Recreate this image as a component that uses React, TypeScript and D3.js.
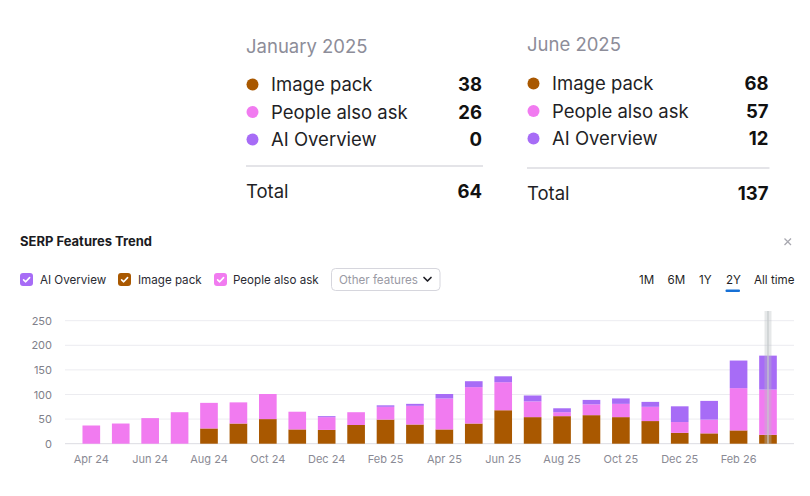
import { scaleBand, scaleLinear, stack } from "d3";

const months = [
  "Apr 24", "May 24", "Jun 24", "Jul 24", "Aug 24", "Sep 24", "Oct 24", "Nov 24",
  "Dec 24", "Jan 25", "Feb 25", "Mar 25", "Apr 25", "May 25", "Jun 25", "Jul 25",
  "Aug 25", "Sep 25", "Oct 25", "Nov 25", "Dec 25", "Jan 26", "Feb 26", "Mar 26",
];
const imagePack = [0, 0, 0, 0, 31, 41, 50, 29, 28, 38, 49, 39, 29, 41, 68, 54, 56, 58, 54, 46, 22, 21, 27, 18];
const peopleAlsoAsk = [37, 41, 52, 64, 52, 43, 51, 36, 26, 26, 26, 38, 63, 74, 57, 32, 8, 22, 27, 29, 22, 28, 86, 92];
const aiOverview = [0, 0, 0, 0, 0, 0, 0, 0, 2, 0, 3, 4, 9, 12, 12, 12, 8, 9, 11, 10, 32, 38, 56, 69];
const yTicks = [0, 50, 100, 150, 200, 250];
const rangeButtons = ["1M", "6M", "1Y", "2Y", "All time"];
const summaryPanels = [
  { title: "January 2025", index: 9 },
  { title: "June 2025", index: 14 },
];

const colors = {
  image: "#a95800",
  paa: "#f17bf0",
  ai: "#a76cf6",
};

const font = "Inter, 'Noto Sans', sans-serif";

type Row = { month: string; image: number; paa: number; ai: number };

const rows: Row[] = months.map((m, i) => ({
  month: m,
  image: imagePack[i],
  paa: peopleAlsoAsk[i],
  ai: aiOverview[i],
}));

const keys = ["image", "paa", "ai"];

const Summary = ({ x, y, right, title, index, rowsTop, totalY }: { x: number; y: number; right: number; title: string; index: number; rowsTop: number; totalY: number }) => {
  const items = [
    { label: "Image pack", value: imagePack[index], color: colors.image },
    { label: "People also ask", value: peopleAlsoAsk[index], color: colors.paa },
    { label: "AI Overview", value: aiOverview[index], color: colors.ai },
  ];
  const total = items.reduce((s, d) => s + d.value, 0);
  return (
    <g fontFamily={font}>
      <text x={x} y={y} fontSize={18.5} fill="#8d8d99">{title}</text>
      {items.map((d, i) => (
        <g key={d.label} transform={`translate(0,${rowsTop + i * 27.5})`}>
          <circle cx={x + 6.5} cy={-6.5} r={6} fill={d.color} />
          <text x={x + 25} y={0} fontSize={18.5} fill="#1f1f26">{d.label}</text>
          <text x={right} y={0} fontSize={18.5} fontWeight={700} fill="#111" textAnchor="end">{d.value}</text>
        </g>
      ))}
      <line x1={x} x2={right + 1} y1={totalY - 32} y2={totalY - 32} stroke="#c9c9d2" strokeWidth={1.2} />
      <text x={x} y={totalY} fontSize={18.5} fill="#1f1f26">Total</text>
      <text x={right} y={totalY} fontSize={18.5} fontWeight={700} fill="#111" textAnchor="end">{total}</text>
    </g>
  );
};

const Check = ({ x, y, color }: { x: number; y: number; color: string }) => (
  <g transform={`translate(${x},${y})`}>
    <rect width={13} height={13} rx={3} fill={color} />
    <path d="M3.6 6.8 L5.7 8.8 L9.6 4.6" fill="none" stroke="#fff" strokeWidth={1.6} strokeLinecap="round" strokeLinejoin="round" />
  </g>
);

const App = () => {
  const width = 810;
  const height = 496;
  const baseline = 443.7;

  const x = scaleBand<string>()
    .domain(months)
    .range([76.6, 782.7])
    .paddingInner(0.4)
    .paddingOuter(0.2);
  const y = scaleLinear().domain([0, 250]).range([baseline, 320.7]);

  const series = stack<Row>().keys(keys)(rows);
  const fills = [colors.image, colors.paa, colors.ai];

  const last = months[months.length - 1];
  const hoverX = (x(last) as number) + x.bandwidth() / 2;
  const buttonX = [639, 667.5, 699, 726, 754];

  return (
    <svg
      width={width}
      height={height}
      viewBox={`0 0 ${width} ${height}`}
      style={{ position: "absolute", left: 0, top: 0, background: "#fff" }}
    >
      <Summary x={246} y={53} right={482} title={summaryPanels[0].title} index={summaryPanels[0].index} rowsTop={91} totalY={198} />
      <Summary x={527} y={51} right={768.5} title={summaryPanels[1].title} index={summaryPanels[1].index} rowsTop={90} totalY={200} />

      <g fontFamily={font}>
        <text x={20} y={246} fontSize={13} fontWeight={700} fill="#1b1b22">SERP Features Trend</text>
        <path d="M784.5 238.5 L791 245 M791 238.5 L784.5 245" stroke="#a8a8b0" strokeWidth={1.3} />

        <Check x={20} y={273} color={colors.ai} />
        <text x={40} y={284} fontSize={11.6} fill="#2a2a33">AI Overview</text>
        <Check x={118} y={273} color={colors.image} />
        <text x={138} y={284} fontSize={11.6} fill="#2a2a33">Image pack</text>
        <Check x={214} y={273} color={colors.paa} />
        <text x={233} y={284} fontSize={11.6} fill="#2a2a33">People also ask</text>

        <rect x={331.5} y={268.5} width={108.5} height={22} rx={4} fill="#fff" stroke="#d6d6dd" />
        <text x={339} y={284} fontSize={11.6} fill="#9a9aa4">Other features</text>
        <path d="M424 277.5 L427.5 281 L431 277.5" fill="none" stroke="#1f1f26" strokeWidth={1.7} strokeLinecap="round" strokeLinejoin="round" />

        {rangeButtons.map((b, i) => (
          <text key={b} x={buttonX[i]} y={284} fontSize={11.6} fill="#1f1f26">{b}</text>
        ))}
        <rect x={725.5} y={289.5} width={14.5} height={2.6} rx={1} fill="#1670d6" />

        {yTicks.map((t) => (
          <g key={t}>
            <line x1={65} x2={794} y1={y(t)} y2={y(t)} stroke={t === 0 ? "#dcdce2" : "#ececf0"} strokeWidth={1} />
            <text x={52} y={y(t) + 4} fontSize={11} fill="#80808a" textAnchor="end">{t}</text>
          </g>
        ))}

        {series.map((s, si) => (
          <g key={s.key} fill={fills[si]}>
            {s.map((d) => {
              const h = y(d[0]) - y(d[1]);
              if (h <= 0) return null;
              return (
                <rect
                  key={d.data.month}
                  x={x(d.data.month)}
                  y={y(d[1])}
                  width={x.bandwidth()}
                  height={h}
                />
              );
            })}
          </g>
        ))}

        <rect x={hoverX - 3.5} y={311} width={7} height={baseline - 311} fill="#b8bec0" opacity={0.35} />
        <line x1={hoverX} x2={hoverX} y1={311} y2={baseline} stroke="#c6cbcc" strokeWidth={1.5} opacity={0.8} />

        {months.map((m, i) =>
          i % 2 === 0 ? (
            <text key={m} x={(x(m) as number) + x.bandwidth() / 2} y={463} fontSize={11} fill="#8a8a94" textAnchor="middle">
              {m}
            </text>
          ) : null
        )}
      </g>
    </svg>
  );
};

export default App;
